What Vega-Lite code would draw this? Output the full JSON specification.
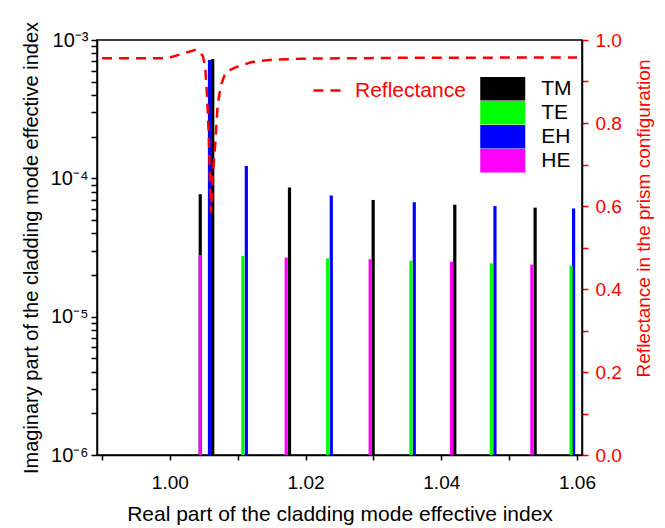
{
  "$schema": "https://vega.github.io/schema/vega-lite/v6.json",
  "width": 485,
  "height": 415,
  "autosize": "none",
  "padding": {"left": 97, "top": 40, "right": 83, "bottom": 73},
  "background": "white",
  "config": {
    "view": {"stroke": "black", "strokeWidth": 1.5},
    "font": "Liberation Sans",
    "axis": {
      "grid": false,
      "domainColor": "black",
      "domainWidth": 1.5,
      "tickColor": "black",
      "tickWidth": 1.5,
      "labelFont": "Liberation Sans",
      "titleFont": "Liberation Sans",
      "labelFontSize": 19,
      "titleFontSize": 20,
      "titleFontWeight": "normal",
      "labelColor": "black",
      "titleColor": "black",
      "labelFlush": false,
      "labelOverlap": false
    },
    "legend": {"labelFont": "Liberation Sans"}
  },
  "datasets": {
    "modes": [
      {"n": 1.00448, "im": 0.0000767, "mode": "TM"},
      {"n": 1.00632, "im": 0.00073, "mode": "TM"},
      {"n": 1.01763, "im": 0.0000857, "mode": "TM"},
      {"n": 1.02996, "im": 0.0000698, "mode": "TM"},
      {"n": 1.04199, "im": 0.0000645, "mode": "TM"},
      {"n": 1.05383, "im": 0.0000614, "mode": "TM"},
      {"n": 1.00584, "im": 0.000718, "mode": "EH"},
      {"n": 1.01127, "im": 0.000123, "mode": "EH"},
      {"n": 1.02379, "im": 0.000075, "mode": "EH"},
      {"n": 1.03602, "im": 0.0000672, "mode": "EH"},
      {"n": 1.04791, "im": 0.000063, "mode": "EH"},
      {"n": 1.0595, "im": 0.0000605, "mode": "EH"},
      {"n": 1.01075, "im": 0.0000275, "mode": "TE"},
      {"n": 1.02326, "im": 0.0000264, "mode": "TE"},
      {"n": 1.03553, "im": 0.0000254, "mode": "TE"},
      {"n": 1.04737, "im": 0.0000243, "mode": "TE"},
      {"n": 1.05913, "im": 0.0000234, "mode": "TE"},
      {"n": 1.00448, "im": 0.0000279, "mode": "HE"},
      {"n": 1.01715, "im": 0.0000268, "mode": "HE"},
      {"n": 1.02952, "im": 0.000026, "mode": "HE"},
      {"n": 1.04151, "im": 0.0000249, "mode": "HE"},
      {"n": 1.05335, "im": 0.0000238, "mode": "HE"}
    ],
    "refl": [
      {"n": 0.99, "r": 0.956},
      {"n": 0.9996, "r": 0.956},
      {"n": 1.0039, "r": 0.977},
      {"n": 1.00487, "r": 0.962},
      {"n": 1.00521, "r": 0.935},
      {"n": 1.00545, "r": 0.875},
      {"n": 1.00574, "r": 0.77},
      {"n": 1.00593, "r": 0.657},
      {"n": 1.00607, "r": 0.584},
      {"n": 1.00632, "r": 0.673},
      {"n": 1.00671, "r": 0.754},
      {"n": 1.00704, "r": 0.843},
      {"n": 1.00752, "r": 0.891},
      {"n": 1.00824, "r": 0.923},
      {"n": 1.00968, "r": 0.934},
      {"n": 1.01209, "r": 0.947},
      {"n": 1.01474, "r": 0.952},
      {"n": 1.0193, "r": 0.955},
      {"n": 1.0338, "r": 0.957},
      {"n": 1.06, "r": 0.958}
    ]
  },
  "layer": [
    {
      "data": {"name": "modes"},
      "mark": {"type": "bar", "size": 3.2},
      "encoding": {
        "x": {
          "field": "n", "type": "quantitative",
          "scale": {"domain": [0.99, 1.06], "nice": false, "zero": false},
          "axis": {
            "title": "Real part of the cladding mode effective index",
            "titleFontSize": 21,
            "values": [0.99, 1.0, 1.01, 1.02, 1.03, 1.04, 1.05, 1.06],
            "labelExpr": "indexof(['1.00','1.02','1.04','1.06'], format(datum.value,'.2f')) >= 0 ? format(datum.value,'.2f') : ''",
            "tickSize": 5,
            "labelPadding": 13,
            "titlePadding": 11
          }
        },
        "y": {
          "field": "im", "type": "quantitative",
          "scale": {"type": "log", "domain": [0.000001, 0.001], "nice": false},
          "axis": {
            "title": "Imaginary part of the cladding mode effective index",
            "values": [0.000001, 0.000002, 0.000003, 0.000004, 0.000005, 0.000006, 0.000007, 0.000008, 0.000009,
                       0.00001, 0.00002, 0.00003, 0.00004, 0.00005, 0.00006, 0.00007, 0.00008, 0.00009,
                       0.0001, 0.0002, 0.0003, 0.0004, 0.0005, 0.0006, 0.0007, 0.0008, 0.0009, 0.001],
            "labelExpr": "datum.value == 0.001 ? '10⁻³' : datum.value == 0.0001 ? '10⁻⁴' : datum.value == 0.00001 ? '10⁻⁵' : datum.value == 0.000001 ? '10⁻⁶' : ''",
            "labelFontSize": 20,
            "tickSize": 6,
            "labelPadding": 3,
            "titlePadding": 9
          }
        },
        "y2": {"datum": 0.000001},
        "color": {
          "field": "mode", "type": "nominal",
          "scale": {"domain": ["TM", "TE", "EH", "HE"], "range": ["#000000", "#00FF00", "#0000FF", "#FF00FF"]},
          "legend": {
            "orient": "none", "legendX": 383, "legendY": 36.7, "title": null,
            "symbolType": "M-1.915,-1H1.915V1H-1.915Z", "symbolSize": 552.25,
            "symbolOffset": 10.75,
            "symbolStrokeWidth": 0, "symbolOpacity": 1,
            "labelFontSize": 21, "labelOffset": 26.5, "labelColor": "black",
            "rowPadding": 0, "padding": 0
          }
        }
      }
    },
    {
      "data": {"name": "refl"},
      "mark": {"type": "line", "color": "#FF0000", "strokeWidth": 2.5},
      "encoding": {
        "x": {
          "field": "n", "type": "quantitative",
          "scale": {"domain": [0.99, 1.06], "nice": false, "zero": false}
        },
        "y": {
          "field": "r", "type": "quantitative",
          "scale": {"domain": [0, 1], "nice": false},
          "axis": {
            "orient": "right",
            "title": "Reflectance in the prism configuration",
            "titleFontSize": 19,
            "titleColor": "#FF0000",
            "titleAngle": 270,
            "titleBaseline": "top",
            "titleY": 178,
            "values": [0, 0.1, 0.2, 0.3, 0.4, 0.5, 0.6, 0.7, 0.8, 0.9, 1.0],
            "labelExpr": "indexof(['0.0','0.2','0.4','0.6','0.8','1.0'], format(datum.value,'.1f')) >= 0 ? format(datum.value,'.1f') : ''",
            "labelColor": "#FF0000",
            "tickColor": "#FF0000",
            "tickSize": 6,
            "labelPadding": 7,
            "titlePadding": 13
          }
        },
        "strokeDash": {
          "datum": "Reflectance",
          "scale": {"domain": ["Reflectance"], "range": [[10, 7]]},
          "legend": {
            "orient": "none", "legendX": 215, "legendY": 34, "title": null,
            "symbolType": "stroke", "symbolSize": 900,
            "symbolStrokeColor": "#FF0000", "symbolStrokeWidth": 2.5,
            "labelColor": "#FF0000", "labelFontSize": 21, "labelOffset": 10, "padding": 0
          }
        }
      }
    }
  ],
  "resolve": {"scale": {"y": "independent", "color": "independent", "strokeDash": "independent"}}
}
